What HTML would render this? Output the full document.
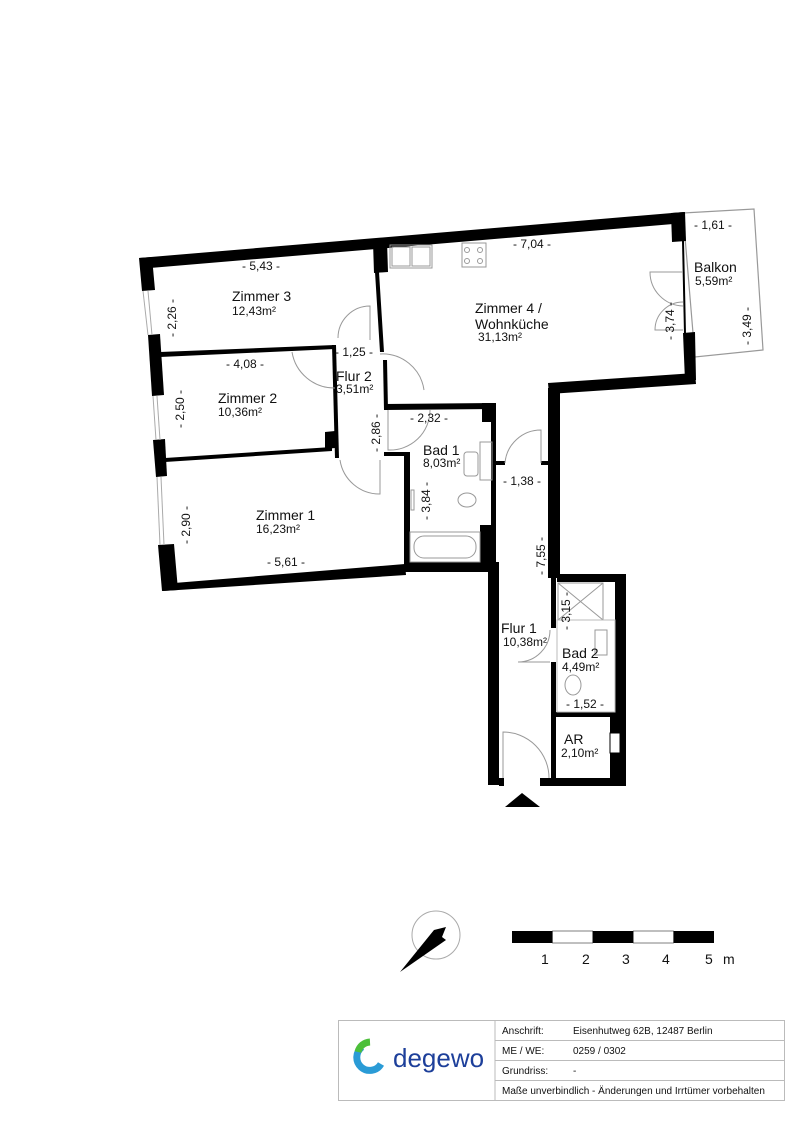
<!DOCTYPE html>
<html><head><meta charset="utf-8"><style>
html,body{margin:0;padding:0;background:#fff;}
svg{display:block;}
text{font-family:"Liberation Sans",Arial,sans-serif;fill:#111;}
</style></head><body>
<svg width="806" height="1140" viewBox="0 0 806 1140" xmlns="http://www.w3.org/2000/svg">
<rect width="806" height="1140" fill="#fff"/>
<polygon points="683,213 754,209 763,350 695,357" fill="none" stroke="#999" stroke-width="1.2"/>
<polygon points="139,258 684,212 685,223 150,268" fill="#000"/>
<polygon points="139,258 152,257 155,290 142,291" fill="#000"/>
<polygon points="148,335 160,334 164,395 152,396" fill="#000"/>
<polygon points="153,440 165,439 167,476 156,477" fill="#000"/>
<polygon points="158,545 174,544 178,590 162,591" fill="#000"/>
<g stroke="#aaa" stroke-width="1" fill="none">
<line x1="143" y1="291" x2="148" y2="335"/><line x1="148" y1="291" x2="152" y2="335"/>
<line x1="153" y1="396" x2="156" y2="440"/><line x1="157" y1="396" x2="160" y2="440"/>
<line x1="157" y1="477" x2="160" y2="545"/><line x1="161" y1="477" x2="164" y2="545"/>
</g>
<polygon points="162,584 405,564 406,575 163,591" fill="#000"/>
<polygon points="160,352 335,345 335,349 160,357" fill="#000"/>
<polygon points="165,458 332,447 332,451 165,462" fill="#000"/>
<polygon points="325,432 335,431 335,448 325,449" fill="#000"/>
<polygon points="373,242 387,241 388,272 374,273" fill="#000"/>
<polygon points="375,272 379,272 384,352 380,352" fill="#000"/>
<polygon points="332,345 336,345 339,458 335,458" fill="#000"/>
<polygon points="383,360 387,360 388,410 384,410" fill="#000"/>
<polygon points="384,404 495,403 495,409 384,410" fill="#000"/>
<polygon points="482,403 496,403 496,422 482,422" fill="#000"/>
<polygon points="384,452 408,452 408,456 384,456" fill="#000"/>
<polygon points="404,452 410,452 410,565 404,565" fill="#000"/>
<polygon points="480,525 496,525 496,566 480,566" fill="#000"/>
<polygon points="491,420 496,420 496,530 491,530" fill="#000"/>
<polygon points="404,562 498,562 498,572 404,572" fill="#000"/>
<polygon points="488,562 499,562 499,785 488,785" fill="#000"/>
<polygon points="548,388 560,388 560,578 548,578" fill="#000"/>
<rect x="551" y="578" width="5" height="50" fill="#000"/>
<rect x="551" y="662" width="5" height="123" fill="#000"/>
<polygon points="494,461 505,461 505,465 494,465" fill="#000"/>
<polygon points="541,461 552,461 552,465 541,465" fill="#000"/>
<polygon points="548,383 695,373 696,384 549,394" fill="#000"/>
<polygon points="683,333 695,332 696,380 685,381" fill="#000"/>
<polygon points="671,213 685,212 686,241 672,242" fill="#000"/>
<line x1="683" y1="241" x2="685" y2="334" stroke="#000" stroke-width="2"/>
<polygon points="555,574 626,574 626,785 610,785 610,712 615,712 615,582 557,582 557,574" fill="#000"/>
<rect x="555" y="712" width="60" height="5" fill="#000"/>
<rect x="610" y="733" width="10" height="20" fill="#fff" stroke="#000" stroke-width="1"/>
<rect x="499" y="778" width="127" height="8" fill="#000"/>
<rect x="503" y="776" width="38" height="12" fill="#fff"/>
<line x1="503" y1="778" x2="503" y2="786" stroke="#000" stroke-width="2"/>
<line x1="541" y1="778" x2="541" y2="786" stroke="#000" stroke-width="2"/>
<polygon points="522,793 505,807 540,807" fill="#000"/>
<g fill="none" stroke="#999" stroke-width="1">
<rect x="390" y="245" width="42" height="23"/><rect x="392" y="247" width="18" height="19"/><rect x="412" y="247" width="18" height="19"/>
<rect x="462" y="243" width="24" height="24"/>
<circle cx="467" cy="250" r="2.5"/><circle cx="480" cy="250" r="2.5"/><circle cx="467" cy="261" r="2.5"/><circle cx="480" cy="261" r="2.5"/>
<rect x="410" y="532" width="70" height="30"/><rect x="414" y="536" width="62" height="22" rx="10"/>
<rect x="480" y="442" width="12" height="38"/><rect x="464" y="452" width="14" height="24" rx="3"/>
<ellipse cx="467" cy="500" rx="9" ry="7"/>
<rect x="411" y="490" width="3" height="20"/>
<rect x="558" y="583" width="45" height="37"/><line x1="558" y1="583" x2="603" y2="620"/><line x1="603" y1="583" x2="558" y2="620"/>
<rect x="595" y="630" width="12" height="25"/>
<ellipse cx="573" cy="685" rx="8" ry="10"/>
<rect x="557" y="620" width="58" height="92" stroke="#bbb"/>
<path d="M338,338 A32,32 0 0 1 370,306 L370,340"/>
<path d="M292,352 A43,43 0 0 0 335,388"/>
<path d="M380,354 A42,42 0 0 1 424,390"/>
<path d="M388,410 L388,450 A40,40 0 0 0 430,410"/>
<path d="M340,460 A40,40 0 0 0 380,494 L380,460"/>
<path d="M505,463 A36,36 0 0 1 541,430 L541,463"/>
<path d="M683,272 L650,272 A34,34 0 0 0 683,306"/>
<path d="M683,302 A28,28 0 0 0 655,330 L683,330"/>
<path d="M550,630 A32,32 0 0 1 518,662 L550,662"/>
<path d="M503,778 L503,732 A46,46 0 0 1 549,778"/>
</g>
<g font-size="14">
<text x="232" y="301">Zimmer 3</text>
<text x="218" y="403">Zimmer 2</text>
<text x="256" y="520">Zimmer 1</text>
<text x="336" y="381">Flur 2</text>
<text x="475" y="313">Zimmer 4 /</text>
<text x="475" y="329">Wohnküche</text>
<text x="694" y="272">Balkon</text>
<text x="423" y="455">Bad 1</text>
<text x="501" y="633">Flur 1</text>
<text x="562" y="658">Bad 2</text>
<text x="564" y="744">AR</text>
</g>
<g font-size="12">
<text x="232" y="315">12,43m²</text>
<text x="218" y="416">10,36m²</text>
<text x="256" y="533">16,23m²</text>
<text x="336" y="393">3,51m²</text>
<text x="478" y="341">31,13m²</text>
<text x="695" y="285">5,59m²</text>
<text x="423" y="467">8,03m²</text>
<text x="503" y="646">10,38m²</text>
<text x="562" y="671">4,49m²</text>
<text x="561" y="757">2,10m²</text>
</g>
<g font-size="12">
<text x="242" y="270">- 5,43 -</text>
<text x="226" y="368">- 4,08 -</text>
<text x="335" y="356">- 1,25 -</text>
<text x="267" y="566">- 5,61 -</text>
<text x="513" y="248">- 7,04 -</text>
<text x="694" y="229">- 1,61 -</text>
<text x="410" y="422">- 2,32 -</text>
<text x="503" y="485">- 1,38 -</text>
<text x="566" y="708">- 1,52 -</text>
<text transform="translate(176,337) rotate(-90)">- 2,26 -</text>
<text transform="translate(184,428) rotate(-90)">- 2,50 -</text>
<text transform="translate(190,544) rotate(-90)">- 2,90 -</text>
<text transform="translate(380,452) rotate(-90)">- 2,86 -</text>
<text transform="translate(430,520) rotate(-90)">- 3,84 -</text>
<text transform="translate(545,575) rotate(-90)">- 7,55 -</text>
<text transform="translate(674,340) rotate(-90)">- 3,74 -</text>
<text transform="translate(751,345) rotate(-90)">- 3,49 -</text>
<text transform="translate(570,630) rotate(-90)">- 3,15 -</text>
</g>
<circle cx="436" cy="935" r="24" fill="none" stroke="#aaa" stroke-width="1"/>
<polygon points="400,972 434,930 446,927 442,937 446,940" fill="#000"/>
<rect x="512" y="931" width="40.4" height="12" fill="#000"/>
<rect x="552.4" y="931" width="40.4" height="12" fill="#fff" stroke="#000" stroke-width="0.5"/>
<rect x="592.8" y="931" width="40.4" height="12" fill="#000"/>
<rect x="633.2" y="931" width="40.4" height="12" fill="#fff" stroke="#000" stroke-width="0.5"/>
<rect x="673.6" y="931" width="40.4" height="12" fill="#000"/>
<g font-size="14">
<text x="541" y="964">1</text><text x="582" y="964">2</text><text x="622" y="964">3</text><text x="662" y="964">4</text><text x="705" y="964">5</text><text x="723" y="964">m</text>
</g>
<g stroke="#bbb" stroke-width="1" fill="none">
<rect x="338.5" y="1020.5" width="446" height="80"/>
<line x1="495" y1="1020" x2="495" y2="1100"/>
<line x1="495" y1="1040.5" x2="784" y2="1040.5"/>
<line x1="495" y1="1060.5" x2="784" y2="1060.5"/>
<line x1="495" y1="1080.5" x2="784" y2="1080.5"/>
</g>
<path d="M362,1047 A13,13 0 1 0 381,1064" fill="none" stroke="#2a9bd6" stroke-width="7"/>
<path d="M358,1052 A13,13 0 0 1 370,1042" fill="none" stroke="#4cbf3a" stroke-width="7"/>
<text x="393" y="1067" font-size="26" style="fill:#1d3f9a">degewo</text>
<g font-size="10">
<text x="502" y="1034">Anschrift:</text><text x="573" y="1034">Eisenhutweg 62B, 12487 Berlin</text>
<text x="502" y="1054">ME / WE:</text><text x="573" y="1054">0259 / 0302</text>
<text x="502" y="1074">Grundriss:</text><text x="573" y="1074">-</text>
<text x="502" y="1094">Maße unverbindlich - Änderungen und Irrtümer vorbehalten</text>
</g>
</svg>
</body></html>
